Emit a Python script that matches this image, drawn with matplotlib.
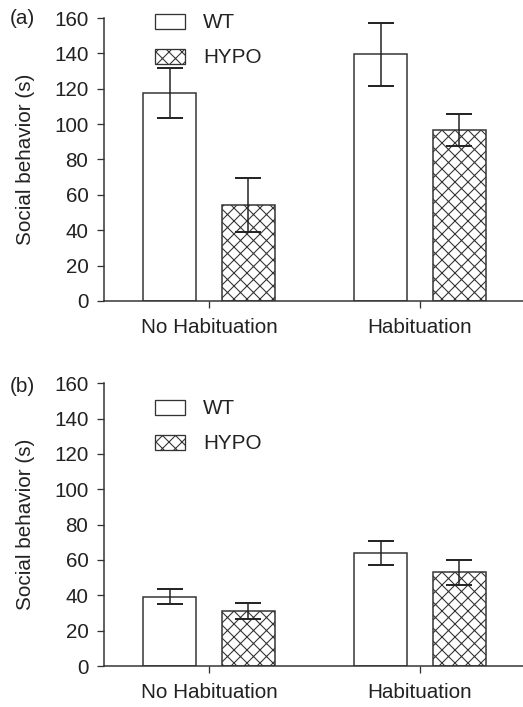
import matplotlib
matplotlib.use('Agg')
import matplotlib.pyplot as plt
from matplotlib.patches import Patch

# data
categories = ['No Habituation', 'Habituation']
groups = ['WT', 'HYPO']

a_wt = [117.5, 139.5]
a_wt_err = [14.0, 17.7]
a_hypo = [54.2, 96.6]
a_hypo_err = [15.3, 9.0]

b_wt = [39.3, 64.0]
b_wt_err = [4.3, 6.8]
b_hypo = [31.1, 53.0]
b_hypo_err = [4.4, 6.9]

y_ticks = [0, 20, 40, 60, 80, 100, 120, 140, 160]

plt.rcParams['font.family'] = ['Liberation Sans', 'DejaVu Sans']
plt.rcParams['hatch.linewidth'] = 1.0
plt.rcParams['hatch.color'] = '#222222'

DPI = 78
fig = plt.figure(figsize=(523 / DPI, 707 / DPI), dpi=DPI)
W, H = 523.0, 707.0

ec = '#333333'
fs = 19


def panel(rect, wt, wt_err, hypo, hypo_err, tag, tag_y, leg_top):
    ax = fig.add_axes(rect)
    x = list(range(len(categories)))
    w = 0.25
    off = 0.187
    ax.bar([i - off for i in x], wt, width=w, color='white', edgecolor=ec, linewidth=1.4, zorder=2)
    ax.bar([i + off for i in x], hypo, width=w, color='white', edgecolor=ec, linewidth=1.4,
           hatch='xx', zorder=2)
    ax.errorbar([i - off for i in x], wt, yerr=wt_err, fmt='none', ecolor='#222222',
                elinewidth=1.4, capsize=12, capthick=1.8, zorder=3)
    ax.errorbar([i + off for i in x], hypo, yerr=hypo_err, fmt='none', ecolor='#222222',
                elinewidth=1.4, capsize=12, capthick=1.8, zorder=3)

    ax.set_xlim(-0.4976, 1.488)
    ax.set_ylim(0, 160)
    ax.set_yticks(y_ticks)
    ax.set_xticks(x)
    ax.set_xticklabels(categories)
    ax.tick_params(axis='both', direction='out', length=6.5, width=1.2, color=ec,
                   labelsize=fs, labelcolor='#222222')
    ax.tick_params(axis='y', pad=8)
    ax.tick_params(axis='x', pad=9)
    for s in ['top', 'right']:
        ax.spines[s].set_visible(False)
    for s in ['left', 'bottom']:
        ax.spines[s].set_linewidth(1.4)
        ax.spines[s].set_color(ec)

    ax.set_ylabel('Social behavior (s)', fontsize=fs, color='#222222')
    ax.yaxis.set_label_coords(-0.165, 0.5)

    handles = [Patch(facecolor='white', edgecolor=ec, linewidth=1.2, label=groups[0]),
               Patch(facecolor='white', edgecolor=ec, linewidth=1.2, hatch='xx', label=groups[1])]
    ax.legend(handles=handles, loc='upper left', bbox_to_anchor=(155 / W, leg_top),
              bbox_transform=fig.transFigure, frameon=False, fontsize=fs,
              handlelength=1.46, handleheight=0.73, handletextpad=0.87,
              labelspacing=0.77, borderpad=0, borderaxespad=0,
              labelcolor='#222222')

    fig.text(10 / W, tag_y, tag, fontsize=fs, va='center', ha='left', color='#222222')
    return ax


panel([104 / W, 1 - 301 / H, 1 - 104 / W, 283 / H], a_wt, a_wt_err, a_hypo, a_hypo_err,
      '(a)', 1 - 19 / H, 1 - 13.5 / H)
panel([104 / W, 1 - 666 / H, 1 - 104 / W, 282.7 / H], b_wt, b_wt_err, b_hypo, b_hypo_err,
      '(b)', 1 - 387 / H, 1 - 399.5 / H)

fig.savefig('out.png', dpi=DPI)
